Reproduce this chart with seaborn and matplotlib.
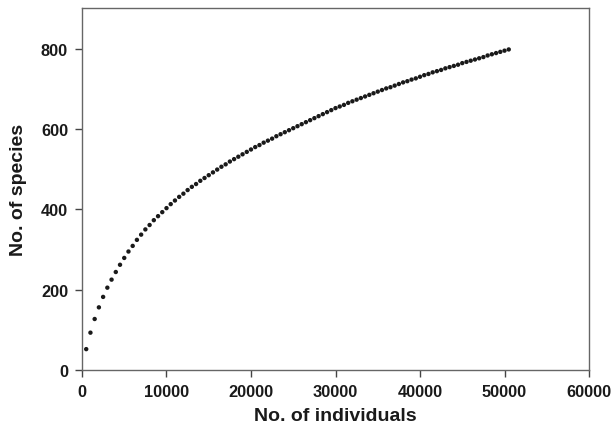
import matplotlib
matplotlib.use("Agg")
import matplotlib.pyplot as plt
import seaborn as sns
import pandas as pd

# Sampling effort (no. of individuals), one point every 500 individuals
individuals = list(range(500, 50501, 500))

# Rarefied species counts
species = [
    52, 93, 127, 156, 182, 205, 225, 244, 262, 279,
    295, 309, 324, 337, 350, 361, 373, 383, 393, 403,
    413, 422, 431, 439, 448, 456, 463, 471, 478, 485,
    492, 499, 506, 512, 519, 525, 531, 537, 543, 549,
    555, 560, 566, 571, 576, 582, 587, 592, 597, 602,
    607, 612, 617, 622, 627, 632, 637, 642, 647, 652,
    656, 660, 665, 669, 673, 677, 681, 685, 689, 693,
    697, 701, 704, 708, 712, 716, 719, 723, 726, 730,
    734, 737, 741, 744, 747, 751, 754, 757, 760, 764,
    767, 770, 773, 776, 779, 783, 786, 789, 792, 795,
    798,
]

x_ticks = [0, 10000, 20000, 30000, 40000, 50000, 60000]
y_ticks = [0, 200, 400, 600, 800]

df = pd.DataFrame({"individuals": individuals, "species": species})

sns.set_style("white")
plt.rcParams["font.family"] = ["Liberation Sans", "DejaVu Sans"]

fig = plt.figure(figsize=(6.16, 4.27), dpi=100)
ax = fig.add_axes([0.1331, 0.1311, 0.8231, 0.8467])

sns.scatterplot(data=df, x="individuals", y="species", ax=ax,
                color="#1a1a1a", s=10, edgecolor="none", linewidth=0)

ax.set_xlim(0, 60000)
ax.set_ylim(0, 900)
ax.set_xticks(x_ticks)
ax.set_yticks(y_ticks)
ax.set_xticklabels([str(t) for t in x_ticks], fontsize=11.8, fontweight="bold", color="#1a1a1a")
ax.set_yticklabels([str(t) for t in y_ticks], fontsize=11.8, fontweight="bold", color="#1a1a1a")

ax.set_xlabel("No. of individuals", fontsize=14, fontweight="bold", color="#1a1a1a", labelpad=6)
ax.set_ylabel("No. of species", fontsize=14, fontweight="bold", color="#1a1a1a", labelpad=10)

for side in ["left", "bottom", "top", "right"]:
    ax.spines[side].set_visible(True)
    ax.spines[side].set_color("#666666")
    ax.spines[side].set_linewidth(1.0)

ax.tick_params(axis="both", which="both", direction="out", length=5, width=1,
               color="#444444", bottom=True, left=True, top=False, right=False, pad=5)

fig.savefig("out.png", dpi=100)
